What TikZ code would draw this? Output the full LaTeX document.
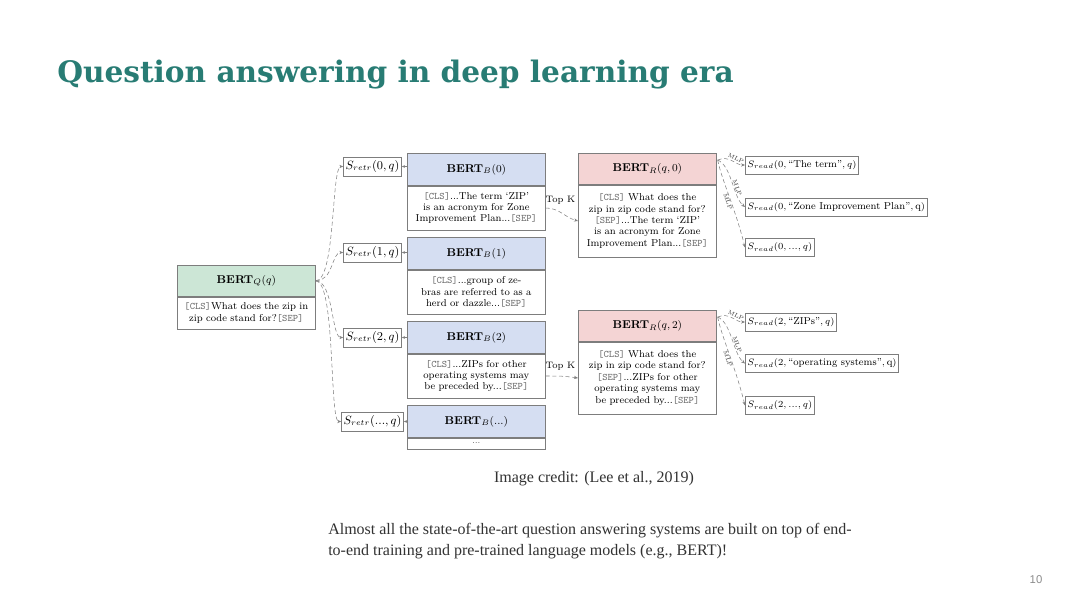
\documentclass[tikz,border=0pt]{standalone}
\usepackage{fontspec}
\usetikzlibrary{arrows.meta,calc}
\newfontfamily\titlefont{DejaVu Serif}
\newfontfamily\bodyfont{Liberation Serif}
\newfontfamily\numfont{Liberation Sans}
\definecolor{titleteal}{RGB}{40,124,116}
\definecolor{boxgray}{RGB}{125,125,125}
\definecolor{greenhdr}{RGB}{204,230,214}
\definecolor{bluehdr}{RGB}{213,222,242}
\definecolor{pinkhdr}{RGB}{244,212,212}
\definecolor{tokgray}{RGB}{110,110,110}
\definecolor{txtdark}{RGB}{50,50,50}
\newcommand{\tokn}[1]{\textcolor{tokgray}{\texttt{#1}}}
\tikzset{
  hdr/.style={draw=boxgray, line width=0.5pt, minimum width=103.5pt, inner sep=0pt,
    anchor=north west, font=\fontsize{8.5}{10}\selectfont},
  bodybox/.style={draw=boxgray, line width=0.5pt, fill=white, minimum width=103.5pt, text width=100pt,
    inner sep=0pt, align=center, anchor=north west, font=\fontsize{7.5}{8.6}\selectfont},
  sbox/.style={draw=boxgray, line width=0.5pt, inner sep=1.5pt, minimum height=14pt,
    font=\fontsize{9}{10}\selectfont},
  rbox/.style={draw=boxgray, line width=0.5pt, inner sep=1.5pt, minimum height=13.5pt,
    anchor=west, font=\fontsize{7.5}{9}\selectfont},
  conn/.style={draw=gray, densely dashed, line width=0.4pt, -{Stealth[length=3pt,width=2.4pt]}},
  shortc/.style={draw=gray, line width=0.4pt, -{Stealth[length=2.5pt,width=2pt]}},
  mlp/.style={font=\fontsize{4.3}{5}\selectfont, inner sep=0.5pt, text=black!80},
  topk/.style={font=\fontsize{7}{8}\selectfont, inner sep=1pt}
}
\begin{document}
\begin{tikzpicture}[x=0.75pt,y=-0.75pt]
\useasboundingbox[fill=white] (0,0) rectangle (1080,607);

% title
\node[anchor=base west, inner sep=0pt, text=titleteal, font=\titlefont\bfseries\fontsize{22.2}{27}\selectfont]
  (title) at (57,82) {Question answering in deep learning era};

% question encoder
\node[hdr, fill=greenhdr, minimum height=23.25pt] (qh) at (177,265) {\textbf{BERT}$_{Q}(q)$};
\node[bodybox, minimum height=24pt] (qb) at (qh.south west)
  {\tokn{[CLS]}What does the zip in\\ zip code stand for?\tokn{[SEP]}};

% passage encoders
\node[hdr, fill=bluehdr, minimum height=24pt] (b0h) at (407,153) {\textbf{BERT}$_{B}(0)$};
\node[bodybox, minimum height=33pt] (b0b) at (b0h.south west)
  {\tokn{[CLS]}...The term `ZIP'\\ is an acronym for Zone\\ Improvement Plan...\tokn{[SEP]}};
\node[hdr, fill=bluehdr, minimum height=24pt] (b1h) at (407,237) {\textbf{BERT}$_{B}(1)$};
\node[bodybox, minimum height=33pt] (b1b) at (b1h.south west)
  {\tokn{[CLS]}...group of ze-\\ bras are referred to as a\\ herd or dazzle...\tokn{[SEP]}};
\node[hdr, fill=bluehdr, minimum height=24pt] (b2h) at (407,321) {\textbf{BERT}$_{B}(2)$};
\node[bodybox, minimum height=33pt] (b2b) at (b2h.south west)
  {\tokn{[CLS]}...ZIPs for other\\ operating systems may\\ be preceded by...\tokn{[SEP]}};
\node[hdr, fill=bluehdr, minimum height=24pt] (b3h) at (407,405) {\textbf{BERT}$_{B}(...)$};
\node[bodybox, minimum height=8.25pt, font=\fontsize{6}{6}\selectfont] (b3b) at (b3h.south west) {...};

% retrieval scores
\node[sbox, minimum width=41.25pt] (s0) at (372.5,166.5) {$S_{retr}(0,q)$};
\node[sbox, minimum width=41.25pt] (s1) at (372.5,252.5) {$S_{retr}(1,q)$};
\node[sbox, minimum width=41.25pt] (s2) at (372.5,337.5) {$S_{retr}(2,q)$};
\node[sbox, minimum width=44pt] (s3) at (372.5,421.5) {$S_{retr}(...,q)$};

\draw[conn] (qh.east) .. controls +(20,0) and +(-12,0) .. (s0.west);
\draw[conn] (qh.east) .. controls +(18,0) and +(-12,0) .. (s1.west);
\draw[conn] (qh.east) .. controls +(18,0) and +(-12,0) .. (s2.west);
\draw[conn] (qh.east) .. controls +(20,0) and +(-12,0) .. (s3.west);

\draw[shortc] (s0.east -| b0h.west) -- (s0.east);
\draw[shortc] (s1.east -| b1h.west) -- (s1.east);
\draw[shortc] (s2.east -| b2h.west) -- (s2.east);
\draw[shortc] (s3.east -| b3h.west) -- (s3.east);

% readers
\node[hdr, fill=pinkhdr, minimum height=23.25pt] (r0h) at (578,153) {\textbf{BERT}$_{R}(q,0)$};
\node[bodybox, minimum height=54pt] (r0b) at (r0h.south west)
  {\tokn{[CLS]} What does the\\ zip in zip code stand for?\\ \tokn{[SEP]}...The term `ZIP'\\ is an acronym for Zone\\ Improvement Plan...\tokn{[SEP]}};
\node[hdr, fill=pinkhdr, minimum height=23.25pt] (r2h) at (578,310) {\textbf{BERT}$_{R}(q,2)$};
\node[bodybox, minimum height=54pt] (r2b) at (r2h.south west)
  {\tokn{[CLS]} What does the\\ zip in zip code stand for?\\ \tokn{[SEP]}...ZIPs for other\\ operating systems may\\ be preceded by...\tokn{[SEP]}};

\draw[conn] (b0b.east) .. controls +(14,0) and +(-14,-4) .. node[topk, pos=0.45, above=5pt] {Top K} (r0b.west);
\draw[conn] (b2b.east) .. controls +(14,0) and +(-14,-2) .. node[topk, pos=0.45, above=3pt] {Top K} (r2b.west);

% reader scores
\node[rbox] (sa0) at (745,165) {$S_{read}(0,\mbox{``The term''},q)$};
\node[rbox] (sa1) at (745,207) {$S_{read}(0,\mbox{``Zone Improvement Plan''},\mbox{q})$};
\node[rbox] (sa2) at (745,247.5) {$S_{read}(0,...,q)$};
\node[rbox] (sc0) at (745,322) {$S_{read}(2,\mbox{``ZIPs''},q)$};
\node[rbox] (sc1) at (745,363.5) {$S_{read}(2,\mbox{``operating systems''},\mbox{q})$};
\node[rbox] (sc2) at (745,405.5) {$S_{read}(2,...,q)$};

\coordinate (m0) at ($(r0h.north east)+(1,7)$);
\coordinate (m2) at ($(r2h.north east)+(1,7)$);

\draw[conn] (m0) .. controls +(12,-5) and +(-10,0) .. node[mlp, sloped, above=0.5pt, pos=0.6] {MLP} (sa0.west);
\draw[conn] (m0) .. controls +(14,6) and +(-12,-10) .. node[mlp, sloped, above, pos=0.62] {MLP} (sa1.west);
\draw[conn] (m0) .. controls +(4,20) and +(-10,-40) .. node[mlp, sloped, below, pos=0.55] {MLP} (sa2.west);
\draw[conn] (m2) .. controls +(12,-5) and +(-10,0) .. node[mlp, sloped, above=0.5pt, pos=0.6] {MLP} (sc0.west);
\draw[conn] (m2) .. controls +(14,6) and +(-12,-10) .. node[mlp, sloped, above, pos=0.62] {MLP} (sc1.west);
\draw[conn] (m2) .. controls +(4,20) and +(-10,-40) .. node[mlp, sloped, below, pos=0.55] {MLP} (sc2.west);

% captions
\node[anchor=center, inner sep=0pt, text=txtdark, font=\bodyfont\fontsize{12}{15}\selectfont]
  (credit) at (594,479) {Image credit: (Lee et al., 2019)};
\node[anchor=north west, inner sep=0pt, align=left, text=txtdark, font=\bodyfont\fontsize{12}{15.75}\selectfont]
  (body) at (328,523) {Almost all the state-of-the-art question answering systems are built on top of end-\\to-end training and pre-trained language models (e.g., BERT)!};
\node[anchor=center, inner sep=0pt, text=black!45, font=\numfont\fontsize{8.5}{10}\selectfont]
  (pnum) at (1036,580) {10};
\end{tikzpicture}
\end{document}
